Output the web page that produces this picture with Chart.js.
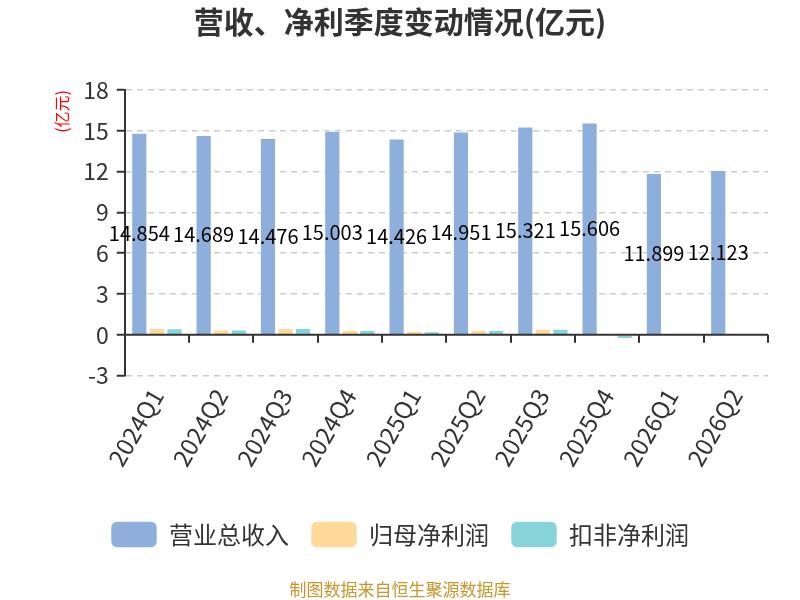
<!DOCTYPE html>
<html>
<head>
<meta charset="utf-8">
<script src="https://cdn.jsdelivr.net/npm/chart.js@4.4.1/dist/chart.umd.min.js"></script>
<style>
  html, body { margin: 0; padding: 0; background: #fff; }
  #wrap { width: 800px; height: 600px; }
</style>
</head>
<body>
<div id="wrap"><canvas id="c" width="800" height="600"></canvas></div>
<script>
const quarters = ['2024Q1', '2024Q2', '2024Q3', '2024Q4', '2025Q1', '2025Q2', '2025Q3', '2025Q4', '2026Q1', '2026Q2'];
const revenue = [14.854, 14.689, 14.476, 15.003, 14.426, 14.951, 15.321, 15.606, 11.899, 12.123];
const netProfit = [0.50, 0.39, 0.50, 0.35, 0.30, 0.35, 0.44, 0.03, -0.07, 0.01];
const deductedProfit = [0.49, 0.39, 0.50, 0.35, 0.26, 0.35, 0.44, -0.30, -0.07, -0.05];
const yTicks = [-3, 0, 3, 6, 9, 12, 15, 18];

const FONT = '"Noto Sans CJK SC", "Noto Sans", sans-serif';

// x axis sits on zero, with ticks between categories
const zeroAxis = {
  id: 'zeroAxis',
  afterDatasetsDraw(chart) {
    const { ctx, chartArea, scales } = chart;
    const y0 = scales.y.getPixelForValue(0);
    const x = scales.x;
    const step = (chartArea.right - chartArea.left) / quarters.length;
    ctx.save();
    ctx.strokeStyle = '#333';
    ctx.lineWidth = 2;
    ctx.beginPath();
    ctx.moveTo(chartArea.left, y0);
    ctx.lineTo(chartArea.right, y0);
    for (let i = 0; i <= quarters.length; i++) {
      const px = Math.round(x.getPixelForValue(i) - step / 2);
      ctx.moveTo(px, y0);
      ctx.lineTo(px, y0 + 8);
    }
    ctx.stroke();
    ctx.restore();
  }
};

const valueLabels = {
  id: 'valueLabels',
  afterDatasetsDraw(chart) {
    const { ctx } = chart;
    const meta = chart.getDatasetMeta(0);
    ctx.save();
    ctx.font = '20px ' + FONT;
    ctx.fillStyle = '#000';
    ctx.textAlign = 'center';
    ctx.textBaseline = 'middle';
    meta.data.forEach((bar, i) => {
      ctx.fillText(revenue[i].toFixed(3), bar.x, (bar.y + bar.base) / 2);
    });
    ctx.restore();
  }
};

new Chart(document.getElementById('c'), {
  type: 'bar',
  data: {
    labels: quarters,
    datasets: [{
      label: '营业总收入',
      data: revenue,
      backgroundColor: 'rgb(142,174,219)',
      borderColor: 'rgba(255,255,255,0.6)',
      borderWidth: 1
    }, {
      label: '归母净利润',
      data: netProfit,
      backgroundColor: 'rgb(255,217,153)',
      borderColor: 'rgba(255,255,255,0.6)',
      borderWidth: 1
    }, {
      label: '扣非净利润',
      data: deductedProfit,
      backgroundColor: 'rgb(135,212,216)',
      borderColor: 'rgba(255,255,255,0.6)',
      borderWidth: 1
    }]
  },
  options: {
    responsive: false,
    animation: false,
    layout: { padding: { left: 32, right: 32, top: 0, bottom: 0 } },
    datasets: { bar: { categoryPercentage: 0.82, barPercentage: 0.92 } },
    scales: {
      x: {
        grid: { display: false, drawTicks: false },
        border: { display: false },
        ticks: {
          color: '#333',
          font: { family: FONT, size: 24 },
          maxRotation: 60,
          minRotation: 60,
          padding: 8
        },
        afterFit(s) { s.height = 124; }
      },
      y: {
        min: -3,
        max: 18,
        afterBuildTicks(s) { s.ticks = yTicks.map(v => ({ value: v })); },
        grid: {
          color: ctx => ctx.tick && ctx.tick.value === 0 ? 'rgba(0,0,0,0)' : '#ccc',
          lineWidth: 1.5,
          tickColor: '#333',
          tickLength: 8,
          tickWidth: 2
        },
        border: { display: true, color: '#333', width: 2, dash: [6, 5] },
        ticks: {
          color: '#333',
          font: { family: FONT, size: 23 },
          padding: 8
        },
        title: {
          display: true,
          text: '(亿元)',
          align: 'end',
          color: 'red',
          font: { family: FONT, size: 16 },
          padding: { top: 20, bottom: 4 }
        }
      }
    },
    plugins: {
      title: {
        display: true,
        text: '营收、净利季度变动情况(亿元)',
        color: '#333',
        font: { family: FONT, size: 30, weight: 'bold' },
        padding: { top: 4, bottom: 50 }
      },
      subtitle: {
        display: true,
        position: 'bottom',
        text: '制图数据来自恒生聚源数据库',
        color: '#c8952a',
        font: { family: FONT, size: 17 },
        padding: { top: 22, bottom: 0 }
      },
      legend: {
        position: 'bottom',
        labels: {
          color: '#333',
          font: { family: FONT, size: 24 },
          boxWidth: 46,
          boxHeight: 26,
          useBorderRadius: true,
          borderRadius: 6,
          padding: 22
        }
      },
      tooltip: { enabled: false }
    }
  },
  plugins: [zeroAxis, valueLabels]
});
</script>
</body>
</html>
